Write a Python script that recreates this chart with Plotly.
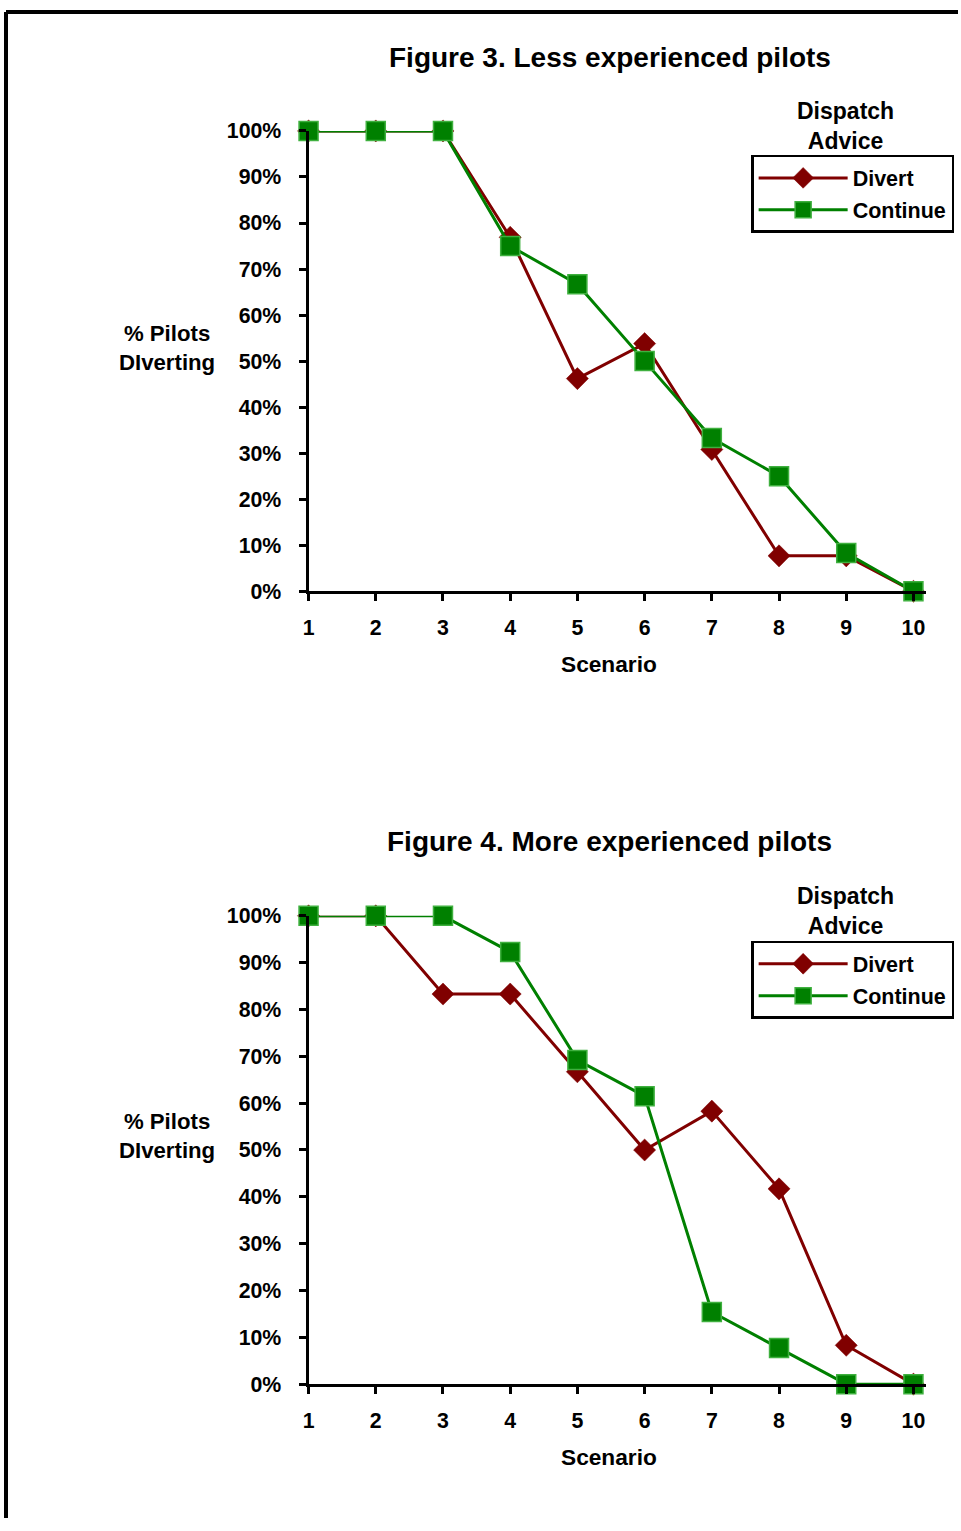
import plotly.graph_objects as go

scenarios = [1, 2, 3, 4, 5, 6, 7, 8, 9, 10]

# Figure 3: less experienced pilots (% diverting)
less_divert = [100, 100, 100, 76.9, 46.2, 53.8, 30.8, 7.7, 7.7, 0]
less_continue = [100, 100, 100, 75.0, 66.7, 50.0, 33.3, 25.0, 8.3, 0]

# Figure 4: more experienced pilots (% diverting)
more_divert = [100, 100, 83.3, 83.3, 66.7, 50.0, 58.3, 41.7, 8.3, 0]
more_continue = [100, 100, 100, 92.3, 69.2, 61.5, 15.4, 7.7, 0, 0]

y_ticks = [0, 10, 20, 30, 40, 50, 60, 70, 80, 90, 100]
y_tick_labels = ["0%", "10%", "20%", "30%", "40%", "50%", "60%", "70%", "80%", "90%", "100%"]
x_tick_labels = ["1", "2", "3", "4", "5", "6", "7", "8", "9", "10"]
titles = ["Figure 3. Less experienced pilots", "Figure 4. More experienced pilots"]
series_names = ["Divert", "Continue"]

RED = "#800000"
GREEN = "#008000"
FONT = "Liberation Sans, Arial, sans-serif"

# page placement observed for the rendered figure: scale S, offsets OX/OY (css px)
S = 0.9857
OX, OY = 8.0, 12.07
W, H = 958, 1530


def py(ref_px):
    return (H - (ref_px / S - OY)) / H


def pxx(ref_px):
    return (ref_px / S - OX) / W


def bold(size):
    return dict(size=size, family=FONT, color="black", weight="bold")


fig = go.Figure()

panels = [
    dict(div=less_divert, cont=less_continue, xa="x", ya="y", leg="legend",
         dom=[py(592), py(131)], top=57, ytl=348, xt=665, lt=126, lgy=155),
    dict(div=more_divert, cont=more_continue, xa="x2", ya="y2", leg="legend2",
         dom=[py(1386), py(917)], top=843, ytl=1137, xt=1459, lt=912, lgy=942),
]

annotations = []
for i, p in enumerate(panels):
    fig.add_trace(go.Scatter(
        x=scenarios, y=p["div"], name=series_names[0], mode="lines+markers",
        xaxis=p["xa"], yaxis=p["ya"], legend=p["leg"], legendgroup=f"d{i}",
        cliponaxis=False,
        line=dict(color=RED, width=3),
        marker=dict(symbol="diamond", size=17, color=RED, line=dict(color=RED, width=0.5)),
    ))
    fig.add_trace(go.Scatter(
        x=scenarios, y=p["cont"], name=series_names[1], mode="lines+markers",
        xaxis=p["xa"], yaxis=p["ya"], legend=p["leg"], legendgroup=f"c{i}",
        cliponaxis=False,
        line=dict(color=GREEN, width=3),
        marker=dict(symbol="square", size=19, color=GREEN, line=dict(color="#3fb03f", width=1.5)),
    ))
    annotations += [
        dict(text=titles[i], x=pxx(607), y=py(p["top"]), xref="paper", yref="paper",
             xanchor="center", yanchor="middle", showarrow=False, font=bold(28)),
        dict(text="% Pilots<br>DIverting", x=pxx(168), y=py(p["ytl"]), xref="paper", yref="paper",
             xanchor="center", yanchor="middle", showarrow=False, align="center", font=bold(22.2)),
        dict(text="Scenario", x=pxx(606), y=py(p["xt"]), xref="paper", yref="paper",
             xanchor="center", yanchor="middle", showarrow=False, font=bold(22.7)),
        dict(text="Dispatch<br>Advice", x=pxx(841), y=py(p["lt"]), xref="paper", yref="paper",
             xanchor="center", yanchor="middle", showarrow=False, align="center", font=bold(23)),
    ]

common_x = dict(range=[1, 10.18], tickmode="array", tickvals=scenarios, ticktext=x_tick_labels,
                showgrid=False, zeroline=False,
                showline=True, linecolor="black", linewidth=3, ticks="outside", ticklen=7,
                tickwidth=2.5, tickcolor="black", ticklabelstandoff=8, tickfont=bold(21.3))
common_y = dict(range=[0, 100], tickmode="array", tickvals=y_ticks, ticktext=y_tick_labels,
                showgrid=False, zeroline=False,
                showline=True, linecolor="black", linewidth=3, ticks="outside", ticklen=7,
                tickwidth=2.5, tickcolor="black", ticklabelstandoff=13, tickfont=bold(21.3))
inner_x = dict(range=[1, 10.18], tickmode="array", tickvals=scenarios, showgrid=False,
               zeroline=False, showline=False, ticks="inside", ticklen=7, tickwidth=2.5,
               tickcolor="black", showticklabels=False)
inner_y = dict(range=[0, 100], tickmode="array", tickvals=y_ticks, showgrid=False,
               zeroline=False, showline=False, ticks="inside", ticklen=7, tickwidth=2.5,
               tickcolor="black", showticklabels=False)

legend_style = dict(xanchor="left", yanchor="top", bgcolor="white", bordercolor="black",
                    borderwidth=2.5, itemwidth=89, tracegroupgap=1, font=bold(21.5))

xdom = [pxx(308), pxx(920)]
fig.update_layout(
    width=W, height=H, margin=dict(l=0, r=0, t=0, b=0),
    paper_bgcolor="white", plot_bgcolor="rgba(0,0,0,0)",
    font=dict(family=FONT, color="black", weight="bold"),
    showlegend=True,
    xaxis=dict(domain=xdom, anchor="y", **common_x),
    yaxis=dict(domain=panels[0]["dom"], anchor="x", **common_y),
    xaxis2=dict(domain=xdom, anchor="y2", **common_x),
    yaxis2=dict(domain=panels[1]["dom"], anchor="x2", **common_y),
    xaxis3=dict(domain=xdom, anchor="y", overlaying="x", **inner_x),
    yaxis3=dict(domain=panels[0]["dom"], anchor="x", overlaying="y", **inner_y),
    xaxis4=dict(domain=xdom, anchor="y2", overlaying="x2", **inner_x),
    yaxis4=dict(domain=panels[1]["dom"], anchor="x2", overlaying="y2", **inner_y),
    legend=dict(x=pxx(747), y=py(155), **legend_style),
    legend2=dict(x=pxx(747), y=py(942), **legend_style),
    annotations=annotations,
    shapes=[
        dict(type="line", xref="paper", yref="paper", x0=0, x1=1, y0=1, y1=1,
             line=dict(color="black", width=4)),
        dict(type="line", xref="paper", yref="paper", x0=0, x1=0, y0=0, y1=1,
             line=dict(color="black", width=4)),
    ],
)

fig.write_html("out.html")
